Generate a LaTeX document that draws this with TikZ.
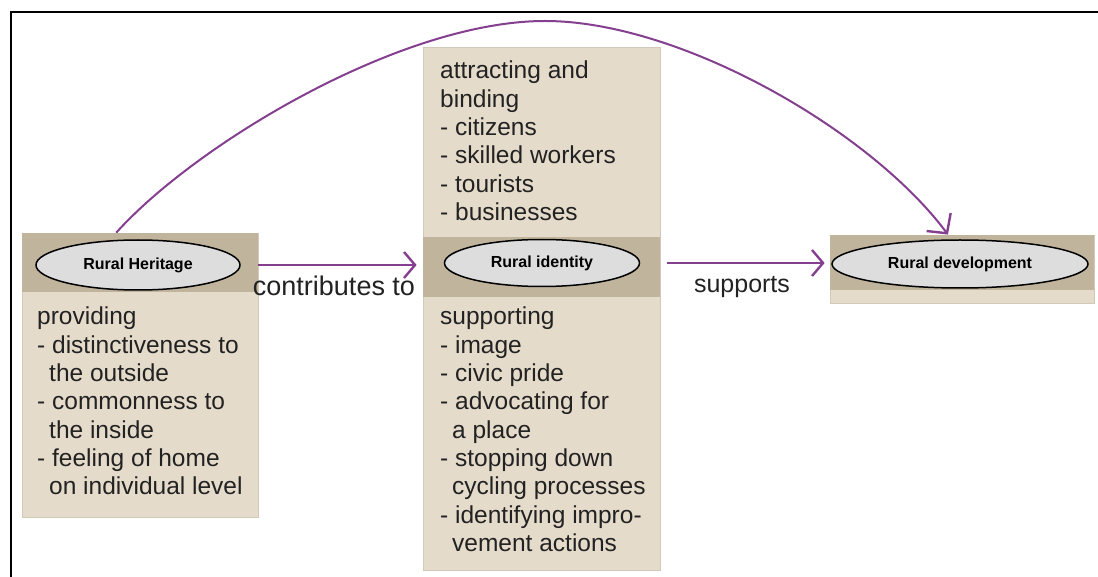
\documentclass[tikz,border=0pt]{standalone}
\usepackage{fontspec}
\setmainfont{Liberation Sans}
\usetikzlibrary{arrows.meta,shapes.geometric,calc}
\definecolor{beige}{HTML}{E5DBCB}
\definecolor{bandc}{HTML}{C1B49C}
\definecolor{ellfill}{HTML}{DDDDDD}
\definecolor{arrowc}{HTML}{84408E}
\definecolor{txt}{HTML}{222222}
\begin{document}
\begin{tikzpicture}[x=1pt,y=-1pt,
  card/.style={rectangle, fill=beige, draw=beige!92!black, line width=0.8pt, inner sep=0pt},
  oval/.style={ellipse, draw=black, line width=1.5pt, fill=ellfill, inner sep=0pt,
               font=\bfseries\fontsize{16}{19}\selectfont},
  boxtext/.style={anchor=north west, align=left, inner sep=0pt, text=txt,
                  font=\fontsize{24.5}{28.3}\selectfont},
  link/.style={draw=arrowc, line width=2.4pt,
               -{Straight Barb[length=11pt,width=26pt,line width=2.4pt]}},
  bigarc/.style={draw=arrowc, line width=2pt,
               -{Straight Barb[length=14pt,width=30pt,line width=2.4pt]}},
  lbl/.style={text=txt, inner sep=0pt}]
\useasboundingbox (0,0) rectangle (1098,577);
\fill[white] (0,0) rectangle (1098,577);
\draw[line width=2pt] (10.5,577) -- (10.5,12.5) -- (1098,12.5);

% boxes
\node[card, minimum width=236pt, minimum height=284pt] (lbox) at (140,375) {};
\fill[bandc] (lbox.north west) rectangle ($(lbox.north east)+(0,59)$);
\node[card, minimum width=237pt, minimum height=523pt] (mbox) at (541.5,308.5) {};
\fill[bandc] ($(mbox.north west)+(0,190)$) rectangle ($(mbox.north east)+(0,250)$);
\node[card, minimum width=264pt, minimum height=68pt] (rbox) at (962,269) {};
\fill[bandc] (rbox.north west) rectangle ($(rbox.north east)+(0,55)$);

% ellipses
\node[oval, minimum width=204pt, minimum height=50pt] (heritage) at (138,265) {Rural Heritage};
\node[oval, minimum width=195pt, minimum height=47pt] (identity) at (542,263) {Rural identity};
\node[oval, minimum width=256pt, minimum height=48pt] (develop) at (960,264) {Rural development};

% texts
\node[boxtext] (ltext) at (37,307) {providing\\- distinctiveness to\\\hspace*{12pt}the outside\\- commonness to\\\hspace*{12pt}the inside\\- feeling of home\\\hspace*{12pt}on individual level};
\node[boxtext] (mtop) at (440,61) {attracting and\\binding\\- citizens\\- skilled workers\\- tourists\\- businesses};
\node[boxtext] (mbot) at (440,307) {supporting\\- image\\- civic pride\\- advocating for\\\hspace*{12pt}a place\\- stopping down\\\hspace*{12pt}cycling processes\\- identifying impro-\\\hspace*{12pt}vement actions};

% labels
\node[lbl, font=\fontsize{27}{30}\selectfont] (contrib) at (334,286) {contributes to};
\node[lbl, font=\fontsize{25}{28}\selectfont] (supp) at (742,287) {supports};

% connectors
\draw[link, shorten >=6pt] (lbox.east |- heritage.east) -- (mbox.west |- heritage.east);
\draw[link, shorten <=7pt, shorten >=5pt] (mbox.east |- identity.east) -- (rbox.west |- identity.east);
\coordinate (arcstart) at ($(lbox.north west)!0.40!(lbox.north east)$);
\coordinate (arcend) at ($(rbox.north west)!0.447!(rbox.north east)$);
\coordinate (peak) at (545,21);
\draw[bigarc] (arcstart) .. controls (195,145) and (400,21) .. (peak)
  .. controls (680,21) and (870,130) .. (arcend);
\end{tikzpicture}
\end{document}
